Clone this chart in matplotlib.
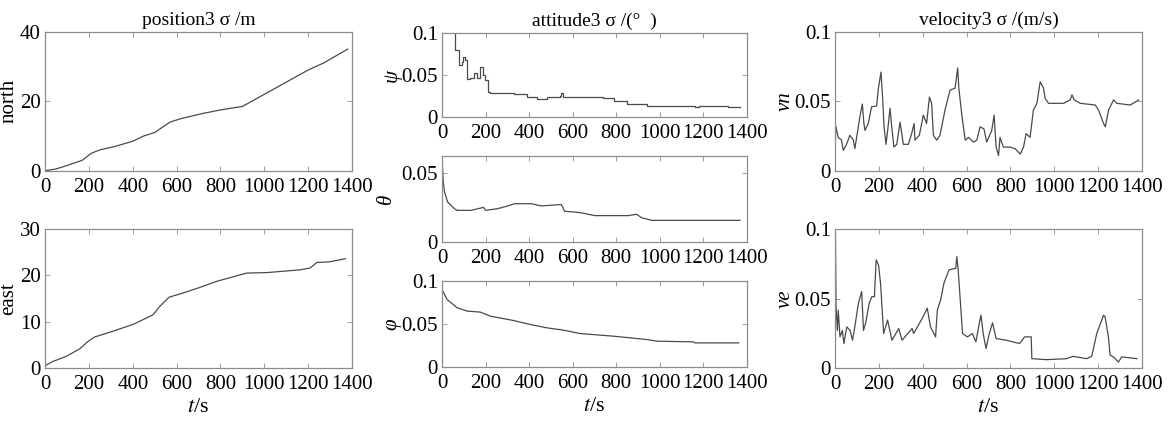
import matplotlib
matplotlib.use("Agg")
import matplotlib.pyplot as plt

plt.rcParams['font.family'] = ['Liberation Serif', 'DejaVu Serif']
plt.rcParams['mathtext.fontset'] = 'stix'

# --- data ---
t_north = [0, 50, 100, 170, 210, 250, 320, 400, 450, 500, 570, 620, 720, 800, 900, 1000, 1100, 1200, 1270, 1380]
north = [0, 0.5, 1.5, 3, 5, 6, 7, 8.5, 10, 11, 14, 15, 16.5, 17.5, 18.5, 22, 25.5, 29, 31, 35]

t_east = [0, 35, 96, 157, 195, 226, 294, 401, 493, 523, 566, 630, 706, 782, 889, 920, 1011, 1164, 1209, 1240, 1293, 1370]
east = [0.5, 1.4, 2.5, 4.1, 5.7, 6.7, 7.7, 9.4, 11.5, 13.3, 15.3, 16.2, 17.4, 18.7, 20.1, 20.5, 20.6, 21.2, 21.6, 22.8, 22.9, 23.6]

t_psi = [0, 53, 60, 76, 90, 96, 105, 115, 130, 145, 160, 176, 190, 199, 210, 222, 329, 390, 436, 482,
         540, 545, 555, 711, 740, 788, 850, 941, 1155, 1160, 1180, 1308, 1312, 1369]
psi = [0.11, 0.1, 0.08, 0.062, 0.065, 0.072, 0.068, 0.045, 0.047, 0.052, 0.047, 0.06, 0.05, 0.044, 0.030, 0.028,
       0.027, 0.0244, 0.0217, 0.0244, 0.025, 0.028, 0.024, 0.0236, 0.023, 0.0185, 0.016, 0.0134, 0.0134, 0.0118,
       0.0134, 0.0134, 0.0118, 0.0118]

t_theta = [0, 5, 11, 26, 57, 70, 133, 179, 190, 200, 255, 302, 333, 410, 456, 548, 563, 609, 640, 703,
           855, 893, 916, 963, 1368]
theta = [0.0613, 0.045, 0.0365, 0.0288, 0.024, 0.0228, 0.0228, 0.0245, 0.025, 0.0228, 0.024, 0.026, 0.0276,
         0.0276, 0.026, 0.027, 0.0221, 0.0216, 0.021, 0.019, 0.019, 0.020, 0.0175, 0.0156, 0.0156]

t_phi = [0, 23, 69, 115, 176, 222, 329, 405, 482, 558, 634, 788, 941, 987, 1155, 1160, 1362]
phi = [0.0903, 0.0786, 0.0689, 0.065, 0.0638, 0.0591, 0.054, 0.0494, 0.0455, 0.0428, 0.0389, 0.0358,
       0.0319, 0.030, 0.0292, 0.028, 0.028]

t_vn = [0, 4, 15, 30, 38, 53, 68, 84, 91, 99, 114, 125, 132, 137, 152, 167, 190, 198, 210, 218, 224, 233,
        244, 251, 259, 269, 282, 297, 312, 335, 350, 361, 365, 385, 403, 418, 431, 441, 449, 464, 479, 502,
        525, 548, 560, 565, 578, 594, 609, 632, 647, 662, 680, 692, 715, 726, 735, 746, 753, 768, 799, 822,
        845, 860, 872, 890, 905, 921, 936, 951, 959, 974, 1043, 1073, 1081, 1091, 1119, 1187, 1202, 1225,
        1233, 1248, 1271, 1286, 1347, 1385]
vn = [0.0097, 0.032, 0.024, 0.022, 0.0146, 0.019, 0.0255, 0.022, 0.016, 0.024, 0.039, 0.048, 0.034, 0.029,
      0.034, 0.046, 0.0466, 0.059, 0.071, 0.051, 0.0316, 0.019, 0.034, 0.045, 0.0316, 0.017, 0.019, 0.035,
      0.019, 0.019, 0.0267, 0.034, 0.022, 0.0255, 0.040, 0.034, 0.053, 0.0485, 0.0255, 0.022, 0.0255, 0.0437,
      0.058, 0.0595, 0.074, 0.0595, 0.041, 0.022, 0.024, 0.0206, 0.022, 0.0316, 0.030, 0.0206, 0.029, 0.040,
      0.017, 0.011, 0.024, 0.017, 0.017, 0.0158, 0.012, 0.017, 0.0267, 0.024, 0.0437, 0.0485, 0.064, 0.0595,
      0.052, 0.0485, 0.0485, 0.051, 0.0546, 0.051, 0.0485, 0.0473, 0.0437, 0.034, 0.0316, 0.0437, 0.051,
      0.0485, 0.0473, 0.051]

t_ve = [0, 2, 5, 11, 15, 23, 34, 41, 54, 69, 80, 92, 107, 122, 130, 141, 156, 168, 180, 188, 199, 208, 222,
        240, 260, 291, 306, 352, 359, 398, 421, 436, 459, 467, 482, 497, 520, 551, 556, 562, 582, 604, 627,
        643, 658, 666, 676, 689, 704, 719, 735, 781, 842, 865, 895, 898, 964, 1056, 1086, 1148, 1171, 1194,
        1225, 1232, 1247, 1255, 1270, 1293, 1308, 1377]
ve = [0.05, 0.1, 0.044, 0.027, 0.0417, 0.0224, 0.027, 0.0176, 0.0296, 0.027, 0.020, 0.031, 0.0465, 0.055,
      0.027, 0.033, 0.0465, 0.0513, 0.0513, 0.0778, 0.074, 0.061, 0.0248, 0.0345, 0.020, 0.0284, 0.020,
      0.0284, 0.0248, 0.0357, 0.043, 0.0296, 0.0224, 0.0417, 0.049, 0.061, 0.0706, 0.0718, 0.0802, 0.0706,
      0.0248, 0.0224, 0.0248, 0.0188, 0.032, 0.038, 0.0248, 0.014, 0.0248, 0.0325, 0.0212, 0.020, 0.0176,
      0.0224, 0.0224, 0.0067, 0.006, 0.0067, 0.0084, 0.0067, 0.0084, 0.0248, 0.038, 0.0369, 0.0224, 0.0092,
      0.008, 0.0043, 0.008, 0.0067]

xticks = [0, 200, 400, 600, 800, 1000, 1200, 1400]

LINE = '#4a4a4a'
FRAME = '#8c8c8c'
FS = 15

fig = plt.figure(figsize=(11.73, 4.21), dpi=100)


def style(ax, ylim, yticks, yticklabels, ylabel, italic=False, pad=2):
    ax.set_xlim(0, 1400)
    ax.set_ylim(*ylim)
    ax.set_xticks(xticks)
    ax.set_yticks(yticks)
    ax.set_yticklabels(yticklabels)
    ax.tick_params(direction='in', top=True, right=True, length=3.5, width=0.6,
                   color=FRAME, labelsize=FS)
    ax.tick_params(axis='x', pad=5)
    ax.tick_params(axis='y', pad=3)
    for s in ax.spines.values():
        s.set_color(FRAME)
        s.set_linewidth(0.9)
    ax.set_ylabel(ylabel, fontsize=FS, style='italic' if italic else 'normal', labelpad=pad)


# left column: position
ax1 = fig.add_axes([0.0384, 0.5945, 0.2617, 0.330])
ax1.plot(t_north, north, color=LINE, lw=0.9)
style(ax1, (0, 40), [0, 20, 40], ['0', '20', '40'], 'north', pad=1)
ax1.set_title('position3 σ /m', fontsize=14, pad=5)

ax2 = fig.add_axes([0.0384, 0.1259, 0.2617, 0.330])
ax2.plot(t_east, east, color=LINE, lw=0.9)
style(ax2, (0, 30), [0, 10, 20, 30], ['0', '10', '20', '30'], 'east', pad=1)
ax2.set_xlabel('$t$/s', fontsize=16, labelpad=3)

# middle column: attitude
ax3 = fig.add_axes([0.3768, 0.7221, 0.26, 0.1995])
ax3.plot(t_psi, psi, color=LINE, lw=0.9, drawstyle='steps-post')
style(ax3, (0, 0.1), [0, 0.05, 0.1], ['0', '0.05', '0.1'], 'ψ', italic=True, pad=0)
ax3.set_title('attitude3 σ /(°  )', fontsize=14, pad=5)

ax4 = fig.add_axes([0.3768, 0.4252, 0.26, 0.2043])
ax4.plot(t_theta, theta, color=LINE, lw=0.9)
style(ax4, (0, 0.062), [0, 0.05], ['0', '0.05'], 'θ', italic=True, pad=4)

ax5 = fig.add_axes([0.3768, 0.1283, 0.26, 0.2043])
ax5.plot(t_phi, phi, color=LINE, lw=0.9)
style(ax5, (0, 0.1), [0, 0.05, 0.1], ['0', '0.05', '0.1'], 'φ', italic=True, pad=0)
ax5.set_xlabel('$t$/s', fontsize=16, labelpad=3)

# right column: velocity
ax6 = fig.add_axes([0.7118, 0.5945, 0.2617, 0.330])
ax6.plot(t_vn, vn, color=LINE, lw=0.9)
style(ax6, (0, 0.1), [0, 0.05, 0.1], ['0', '0.05', '0.1'], 'vn', italic=True, pad=0)
ax6.set_title('velocity3 σ /(m/s)', fontsize=14, pad=5)

ax7 = fig.add_axes([0.7118, 0.1259, 0.2617, 0.330])
ax7.plot(t_ve, ve, color=LINE, lw=0.9)
style(ax7, (0, 0.1), [0, 0.05, 0.1], ['0', '0.05', '0.1'], 've', italic=True, pad=0)
ax7.set_xlabel('$t$/s', fontsize=16, labelpad=3)

fig.savefig('out.png', dpi=100)
